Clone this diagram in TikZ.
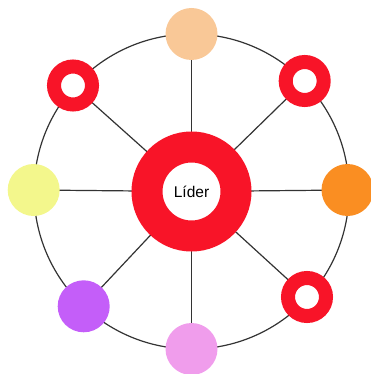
\documentclass[tikz,border=0pt]{standalone}
\usepackage{fontspec}
\setmainfont{Liberation Sans}
\definecolor{ringred}{HTML}{F81428}
\definecolor{cpeach}{HTML}{F9C897}
\definecolor{cyellow}{HTML}{F3F78C}
\definecolor{corange}{HTML}{FA8E22}
\definecolor{cpurple}{HTML}{C45EF9}
\definecolor{cpink}{HTML}{F09DEC}
\definecolor{linec}{HTML}{333333}
\begin{document}
\begin{tikzpicture}[x=1pt,y=-1pt,
  spoke/.style={draw=linec,line width=1.2pt},
  dot/.style={circle,inner sep=0pt,minimum size=52pt},
  ring/.style={circle,inner sep=0pt,minimum size=38pt,draw=ringred,line width=14pt,fill=white},
  leader/.style={circle,inner sep=0pt,minimum size=89pt,draw=ringred,line width=31pt,fill=white,font=\fontsize{15.5}{18}\selectfont}]
\useasboundingbox (0,0) rectangle (371,374);
\coordinate (c) at (191.5,191.5);
\coordinate (pt) at (191.5,34);
\coordinate (ptr) at (304.7,81);
\coordinate (pr) at (347.5,190);
\coordinate (pbr) at (307,297);
\coordinate (pb) at (191.5,349);
\coordinate (pbl) at (83.7,306.3);
\coordinate (pl) at (33.7,190);
\coordinate (ptl) at (73,85.5);
\draw[spoke] (c) circle[radius=157.5];
\foreach \p in {pt,ptr,pr,pbr,pb,pbl,pl,ptl} \draw[spoke] (c) -- (\p);
\node[leader] (lider) at (c) {Líder};
\node[dot,fill=cpeach] (top) at (pt) {};
\node[ring] (topright) at (ptr) {};
\node[dot,fill=corange] (right) at (pr) {};
\node[ring] (botright) at (pbr) {};
\node[dot,fill=cpink] (bottom) at (pb) {};
\node[dot,fill=cpurple] (botleft) at (pbl) {};
\node[dot,fill=cyellow] (left) at (pl) {};
\node[ring] (topleft) at (ptl) {};
\end{tikzpicture}
\end{document}
